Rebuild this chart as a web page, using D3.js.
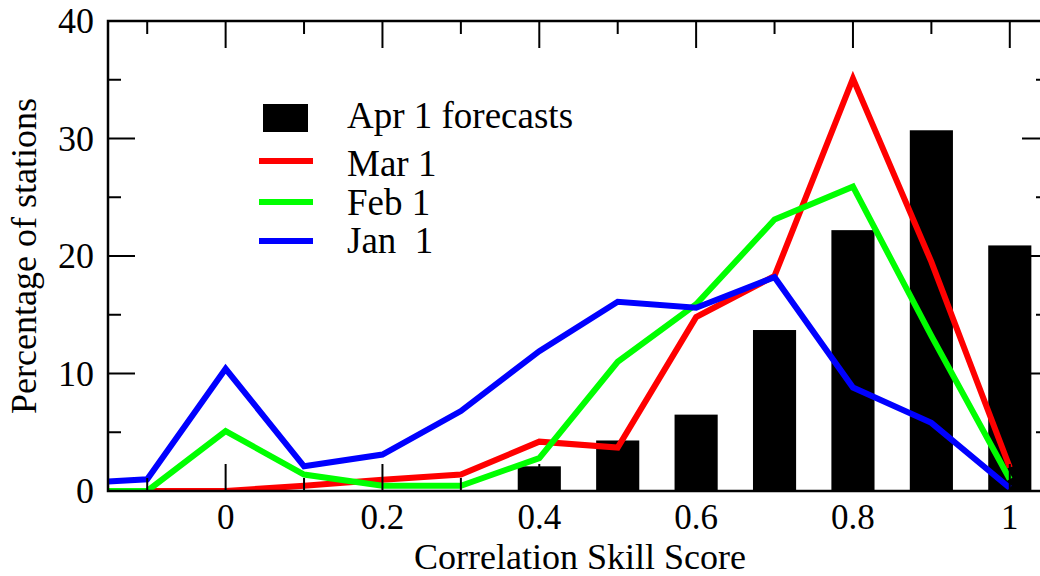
<!DOCTYPE html>
<html>
<head>
<meta charset="utf-8">
<script src="https://cdn.jsdelivr.net/npm/d3@7"></script>
<style>
  html, body { margin: 0; padding: 0; background: #fff; }
  svg { display: block; }
  text { font-family: "Liberation Serif", "Times New Roman", serif; fill: #000; white-space: pre; }
</style>
</head>
<body>
<svg id="chart" width="1040" height="576"></svg>
<script>
// Bin centres of the correlation skill score
const skillBins = [-0.2, -0.1, 0.0, 0.1, 0.2, 0.3, 0.4, 0.5, 0.6, 0.7, 0.8, 0.9, 1.0];

// Apr 1 forecasts (bars), only bins from 0.4 upward are populated
const aprBins   = [0.4, 0.5, 0.6, 0.7, 0.8, 0.9, 1.0];
const aprValues = [2.1, 4.3, 6.5, 13.7, 22.2, 30.7, 20.9];

// Earlier issue dates (lines), percentage of stations per bin
const marValues = [0.0, 0.0, 0.0, 0.45, 0.95, 1.4, 4.2, 3.7, 14.8, 18.3, 35.1, 19.5, 2.0];
const febValues = [0.0, 0.0, 5.1, 1.4, 0.45, 0.45, 2.8, 11.0, 15.9, 23.1, 25.9, 13.2, 1.0];
const janValues = [0.6, 1.0, 10.4, 2.1, 3.1, 6.8, 11.9, 16.1, 15.6, 18.2, 8.8, 5.8, 0.25];

const xTickValues = [0, 0.2, 0.4, 0.6, 0.8, 1];
const yTickValues = [0, 10, 20, 30, 40];

const legendItems = [
  { label: "Apr 1 forecasts", kind: "bar",  color: "#000000" },
  { label: "Mar 1",           kind: "line", color: "#ff0000" },
  { label: "Feb 1",           kind: "line", color: "#00ff00" },
  { label: "Jan  1",          kind: "line", color: "#0000ff" }
];

const series = [
  { values: marValues, color: "#ff0000" },
  { values: febValues, color: "#00ff00" },
  { values: janValues, color: "#0000ff" }
];

const svg = d3.select("#chart");
const margin = { left: 108, top: 21, right: 1049, bottom: 491 };

const x = d3.scaleLinear().domain([-0.15, 1.05]).range([margin.left, margin.right]);
const y = d3.scaleLinear().domain([0, 40]).range([margin.bottom, margin.top]);

svg.append("defs").append("clipPath").attr("id", "plotClip")
  .append("rect")
  .attr("x", margin.left).attr("y", margin.top)
  .attr("width", margin.right - margin.left)
  .attr("height", margin.bottom - margin.top);

const plot = svg.append("g").attr("clip-path", "url(#plotClip)");

// Bars
const barWidth = x(0.055) - x(0);
plot.selectAll("rect.bar")
  .data(aprBins.map((b, i) => ({ b, v: aprValues[i] })))
  .join("rect")
  .attr("class", "bar")
  .attr("x", d => x(d.b) - barWidth / 2)
  .attr("y", d => y(d.v))
  .attr("width", barWidth)
  .attr("height", d => y(0) - y(d.v))
  .attr("fill", "#000");

// Lines
const line = d3.line().x((d, i) => x(skillBins[i])).y(d => y(d));
series.forEach(s => {
  plot.append("path")
    .datum(s.values)
    .attr("d", line)
    .attr("fill", "none")
    .attr("stroke", s.color)
    .attr("stroke-width", 6)
    .attr("stroke-linejoin", "miter");
});

// Axes: major and minor ticks on all four sides, pointing inward
const xMinor = d3.range(-0.1, 1.05, 0.1).map(v => +v.toFixed(2)).filter(v => !xTickValues.includes(v));
const yMinor = [5, 15, 25, 35];
const majorLen = 27, minorLen = 13;

const frame = svg.append("g");
function inwardX(g, scale, vals, len, yPos, dir) {
  g.selectAll(null).data(vals).join("line")
    .attr("x1", d => scale(d)).attr("x2", d => scale(d))
    .attr("y1", yPos).attr("y2", yPos + dir * len)
    .attr("stroke", "#000").attr("stroke-width", 2);
}
function inwardY(g, scale, vals, len, xPos, dir) {
  g.selectAll(null).data(vals).join("line")
    .attr("y1", d => scale(d)).attr("y2", d => scale(d))
    .attr("x1", xPos).attr("x2", xPos + dir * len)
    .attr("stroke", "#000").attr("stroke-width", 2);
}
inwardX(frame, x, xTickValues, majorLen, margin.bottom, -1);
inwardX(frame, x, xMinor, minorLen, margin.bottom, -1);
inwardX(frame, x, xTickValues, majorLen, margin.top, 1);
inwardX(frame, x, xMinor, minorLen, margin.top, 1);
inwardY(frame, y, yTickValues, majorLen, margin.left, 1);
inwardY(frame, y, yMinor, minorLen, margin.left, 1);
inwardY(frame, y, yTickValues, majorLen, margin.right, -1);
inwardY(frame, y, yMinor, minorLen, margin.right, -1);

frame.append("rect")
  .attr("x", margin.left).attr("y", margin.top)
  .attr("width", margin.right - margin.left)
  .attr("height", margin.bottom - margin.top)
  .attr("fill", "none").attr("stroke", "#000").attr("stroke-width", 2.5);

// Tick labels
svg.append("g").selectAll("text").data(xTickValues).join("text")
  .attr("x", d => x(d)).attr("y", 529)
  .attr("text-anchor", "middle")
  .attr("font-size", 35)
  .text(d => d3.format("~g")(d));

svg.append("g").selectAll("text").data(yTickValues).join("text")
  .attr("x", 94).attr("y", d => y(d) + 12)
  .attr("text-anchor", "end")
  .attr("font-size", 36)
  .text(d => d);

// Axis titles
svg.append("text")
  .attr("x", 580).attr("y", 569)
  .attr("text-anchor", "middle")
  .attr("font-size", 36)
  .text("Correlation Skill Score");

svg.append("text")
  .attr("transform", "translate(36, 256) rotate(-90)")
  .attr("text-anchor", "middle")
  .attr("font-size", 36)
  .text("Percentage of stations");

// Legend
const legendRows = [
  { mark: 118, base: 128 },
  { mark: 161, base: 176 },
  { mark: 202, base: 215 },
  { mark: 241, base: 253 }
];
const legend = svg.append("g");
legendItems.forEach((item, i) => {
  const row = legendRows[i];
  if (item.kind === "bar") {
    legend.append("rect")
      .attr("x", 263).attr("y", row.mark - 14)
      .attr("width", 45).attr("height", 28)
      .attr("fill", item.color);
  } else {
    legend.append("line")
      .attr("x1", 259).attr("x2", 313)
      .attr("y1", row.mark).attr("y2", row.mark)
      .attr("stroke", item.color).attr("stroke-width", 6);
  }
  legend.append("text")
    .attr("x", 347).attr("y", row.base)
    .attr("font-size", 37)
    .text(item.label);
});
</script>
</body>
</html>
